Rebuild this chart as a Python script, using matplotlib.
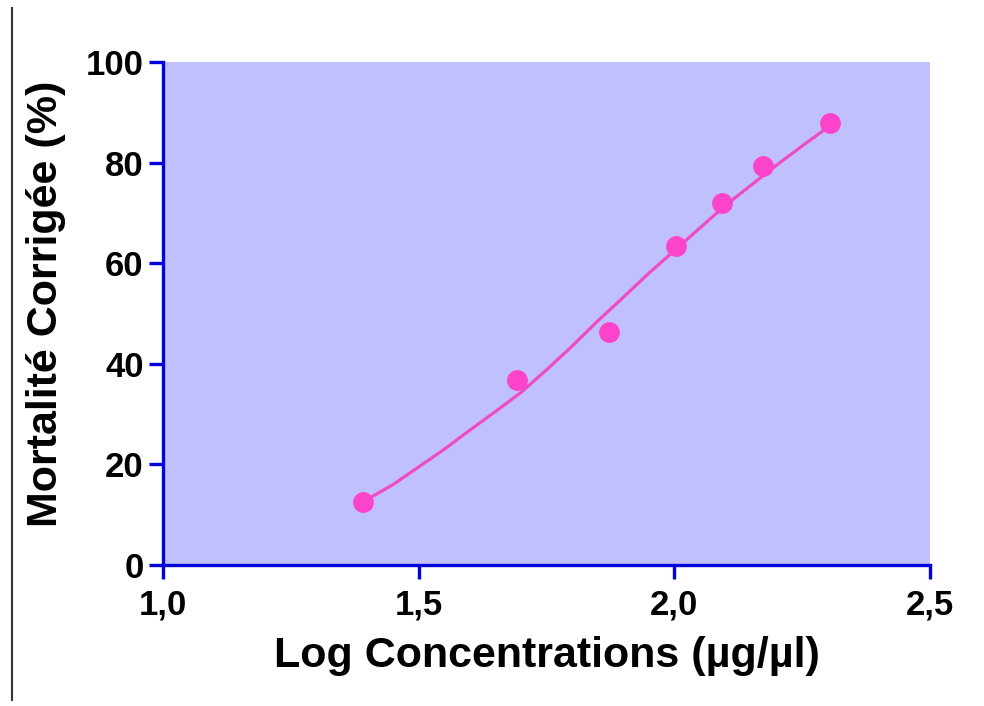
import matplotlib
matplotlib.use("Agg")
import matplotlib.pyplot as plt
from matplotlib.lines import Line2D

plt.rcParams['font.family'] = ['Liberation Sans', 'DejaVu Sans']

# Observed points
log_conc = [1.391, 1.693, 1.873, 2.004, 2.094, 2.174, 2.305]
mortality = [12.5, 36.8, 46.3, 63.4, 72.0, 79.3, 87.9]

# Fitted curve
curve_x = [1.39, 1.45, 1.50, 1.55, 1.60, 1.65, 1.70, 1.75, 1.80, 1.85, 1.90,
           1.95, 2.00, 2.05, 2.10, 2.15, 2.20, 2.25, 2.30]
curve_y = [12.5, 16.0, 19.5, 23.0, 26.8, 30.5, 34.3, 38.8, 43.5, 48.5, 53.2,
           58.0, 62.5, 67.0, 71.5, 75.5, 79.5, 83.3, 87.0]

x_ticks = [1.0, 1.5, 2.0, 2.5]
x_ticklabels = ['1,0', '1,5', '2,0', '2,5']
y_ticks = [0, 20, 40, 60, 80, 100]

fig = plt.figure(figsize=(9.84, 7.06), dpi=100)
ax = fig.add_axes([0.1657, 0.1997, 0.9451 - 0.1657, 0.9122 - 0.1997])
ax.set_facecolor('#c0c0fd')

ax.plot(curve_x, curve_y, color='#ee4cc4', lw=2.3, zorder=3)
ax.plot(log_conc, mortality, 'o', color='#ff44cc', markersize=14, zorder=4)

ax.set_xlim(1.0, 2.5)
ax.set_ylim(0, 100)
ax.set_xticks(x_ticks)
ax.set_xticklabels(x_ticklabels)
ax.set_yticks(y_ticks)

blue = '#0000dd'
for s in ['top', 'right']:
    ax.spines[s].set_visible(False)
for s in ['left', 'bottom']:
    ax.spines[s].set_color(blue)
    ax.spines[s].set_linewidth(2.4)
ax.tick_params(axis='both', which='major', direction='out', length=10,
               width=2.4, color=blue, labelsize=25, pad=4)
ax.tick_params(axis='x', pad=7)
for lab in ax.get_xticklabels() + ax.get_yticklabels():
    lab.set_fontweight('bold')

ax.set_xlabel('Log Concentrations (µg/µl)', fontsize=31, fontweight='bold', labelpad=10)
ax.set_ylabel('Mortalité Corrigée (%)', fontsize=31, fontweight='bold')
ax.yaxis.set_label_coords(-0.127, 0.52)

fig.add_artist(Line2D([12 / 984, 12 / 984], [1 - 8 / 706, 1 - 700 / 706],
                      color='#333333', lw=1.5, transform=fig.transFigure))

fig.savefig('out.png', dpi=100)
